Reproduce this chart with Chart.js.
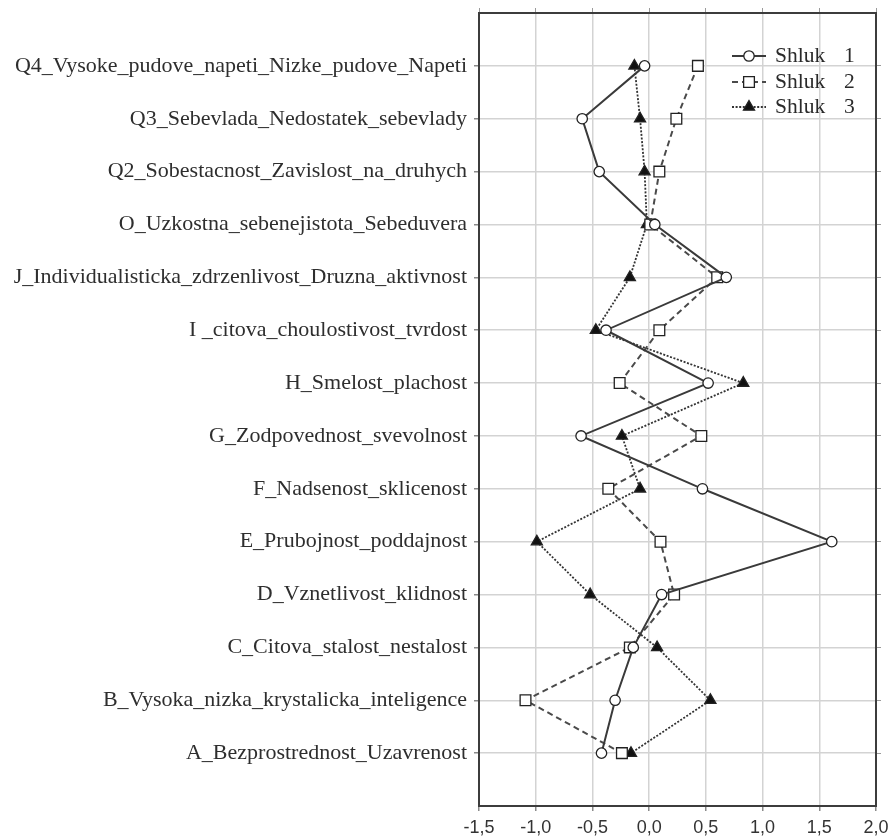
<!DOCTYPE html>
<html>
<head>
<meta charset="utf-8">
<script src="https://cdn.jsdelivr.net/npm/chart.js@4/dist/chart.umd.min.js"></script>
<style>
  html, body { margin: 0; padding: 0; background: #fff; }
  #wrap { width: 890px; height: 836px; }
</style>
</head>
<body>
<div id="wrap"><canvas id="c" width="890" height="836"></canvas></div>
<script>
// Factor profiles (16PF) of the three clusters, listed top to bottom
const categories = [
  'Q4_Vysoke_pudove_napeti_Nizke_pudove_Napeti',
  'Q3_Sebevlada_Nedostatek_sebevlady',
  'Q2_Sobestacnost_Zavislost_na_druhych',
  'O_Uzkostna_sebenejistota_Sebeduvera',
  'J_Individualisticka_zdrzenlivost_Druzna_aktivnost',
  'I _citova_choulostivost_tvrdost',
  'H_Smelost_plachost',
  'G_Zodpovednost_svevolnost',
  'F_Nadsenost_sklicenost',
  'E_Prubojnost_poddajnost',
  'D_Vznetlivost_klidnost',
  'C_Citova_stalost_nestalost',
  'B_Vysoka_nizka_krystalicka_inteligence',
  'A_Bezprostrednost_Uzavrenost'
];
const shluk1 = [-0.04, -0.59, -0.44, 0.05, 0.68, -0.38, 0.52, -0.60, 0.47, 1.61, 0.11, -0.14, -0.30, -0.42];
const shluk2 = [0.43, 0.24, 0.09, 0.01, 0.60, 0.09, -0.26, 0.46, -0.36, 0.10, 0.22, -0.17, -1.09, -0.24];
const shluk3 = [-0.13, -0.08, -0.04, -0.02, -0.17, -0.47, 0.83, -0.24, -0.08, -0.99, -0.52, 0.07, 0.54, -0.16];
const seriesNames = ['Shluk', 'Shluk', 'Shluk'];
const seriesNumbers = ['1', '2', '3'];
const xTicks = [-1.5, -1.0, -0.5, 0.0, 0.5, 1.0, 1.5, 2.0];

const toPoints = vals => vals.map((v, i) => ({ x: v, y: i + 1 }));
const fmt = v => v.toFixed(1).replace('.', ',');

const SERIF = "'Liberation Serif', 'Times New Roman', serif";
const SANS = "'Liberation Sans', Arial, sans-serif";
const GRID = '#d3d3d3';
const FRAME = '#3c3c3c';

const styles = [
  { color: '#3a3a3a', dash: [], width: 2, point: 'circle', radius: 5.2, fill: '#ffffff' },
  { color: '#4a4a4a', dash: [6, 4], width: 2, point: 'rect', radius: 7.6, fill: '#ffffff' },
  { color: '#333333', dash: [2, 1.6], width: 1.8, point: 'triangle', radius: 6.4, fill: '#111111' }
];
const seriesData = [shluk1, shluk2, shluk3];

const datasets = seriesData.map((vals, k) => ({
  label: seriesNames[k] + ' ' + seriesNumbers[k],
  data: toPoints(vals),
  showLine: true,
  borderColor: styles[k].color,
  borderWidth: styles[k].width,
  borderDash: styles[k].dash,
  pointStyle: styles[k].point,
  pointRadius: styles[k].radius,
  pointBackgroundColor: styles[k].fill,
  pointBorderColor: '#222',
  pointBorderWidth: 1.3,
  tension: 0
}));

const categoryTicks = scale => { scale.ticks = categories.map((c, i) => ({ value: i + 1 })); };
const noPad = s => { s.paddingTop = 0; s.paddingBottom = 0; s.paddingLeft = 0; s.paddingRight = 0; };

function marker(ctx, style, x, y, r) {
  ctx.save();
  ctx.setLineDash([]);
  ctx.lineWidth = 1.3;
  ctx.strokeStyle = '#222';
  ctx.fillStyle = style.fill;
  ctx.beginPath();
  if (style.point === 'circle') {
    ctx.arc(x, y, r, 0, Math.PI * 2);
  } else if (style.point === 'rect') {
    const s = r * Math.SQRT1_2;
    ctx.rect(x - s, y - s, 2 * s, 2 * s);
  } else {
    ctx.moveTo(x, y - r);
    ctx.lineTo(x + r * Math.sqrt(3) / 2, y + r / 2);
    ctx.lineTo(x - r * Math.sqrt(3) / 2, y + r / 2);
    ctx.closePath();
  }
  ctx.fill();
  ctx.stroke();
  ctx.restore();
}

// In-plot legend: line sample with marker, then the series name
const legendPlugin = {
  id: 'plotLegend',
  afterDatasetsDraw(chart) {
    const ctx = chart.ctx;
    const a = chart.chartArea;
    const x0 = a.right - 144, x1 = a.right - 110, xm = (x0 + x1) / 2;
    const rows = [a.top + 43, a.top + 69, a.top + 94];
    styles.forEach((st, k) => {
      const y = rows[k];
      ctx.save();
      ctx.strokeStyle = st.color;
      ctx.lineWidth = st.width;
      ctx.setLineDash(st.dash);
      ctx.beginPath();
      ctx.moveTo(x0, y);
      ctx.lineTo(x1, y);
      ctx.stroke();
      ctx.restore();
      marker(ctx, st, xm, y, st.radius);
      ctx.save();
      ctx.fillStyle = '#2a2a2a';
      ctx.font = '21.5px ' + SERIF;
      ctx.textBaseline = 'middle';
      ctx.textAlign = 'left';
      ctx.fillText(seriesNames[k], a.right - 101, y);
      ctx.fillText(seriesNumbers[k], a.right - 32, y);
      ctx.restore();
    });
  }
};

new Chart(document.getElementById('c'), {
  type: 'scatter',
  data: { datasets },
  plugins: [legendPlugin],
  options: {
    responsive: false,
    animation: false,
    layout: { padding: 0 },
    plugins: { legend: { display: false }, tooltip: { enabled: false } },
    scales: {
      x: {
        type: 'linear', position: 'bottom', min: -1.5, max: 2.0,
        afterBuildTicks: s => { s.ticks = xTicks.map(v => ({ value: v })); },
        afterFit: s => { s.height = 30; noPad(s); },
        grid: { color: GRID, lineWidth: 1.5, tickColor: '#8a8a8a', tickLength: 5 },
        border: { display: true, color: FRAME, width: 2 },
        ticks: { color: '#333', font: { family: SANS, size: 18 }, padding: 6, callback: v => fmt(v) }
      },
      xTop: {
        type: 'linear', position: 'top', min: -1.5, max: 2.0,
        afterBuildTicks: s => { s.ticks = xTicks.map(v => ({ value: v })); },
        afterFit: s => { s.height = 13; noPad(s); },
        grid: { drawOnChartArea: false, tickColor: '#9a9a9a', tickLength: 5 },
        border: { display: true, color: FRAME, width: 2 },
        ticks: { display: false }
      },
      y: {
        type: 'linear', position: 'left', min: 0, max: 15, reverse: true,
        afterBuildTicks: categoryTicks,
        afterFit: s => { s.width = 479; noPad(s); },
        grid: { color: GRID, lineWidth: 1.5, tickColor: '#8a8a8a', tickLength: 5 },
        border: { display: true, color: FRAME, width: 2 },
        ticks: { color: '#2e2e2e', font: { family: SERIF, size: 22 }, padding: 7,
                 callback: v => categories[v - 1] || '' }
      },
      yRight: {
        type: 'linear', position: 'right', min: 0, max: 15, reverse: true,
        afterBuildTicks: categoryTicks,
        afterFit: s => { s.width = 14; noPad(s); },
        grid: { drawOnChartArea: false, tickColor: '#9a9a9a', tickLength: 5 },
        border: { display: true, color: FRAME, width: 2 },
        ticks: { display: false }
      }
    }
  }
});
</script>
</body>
</html>
